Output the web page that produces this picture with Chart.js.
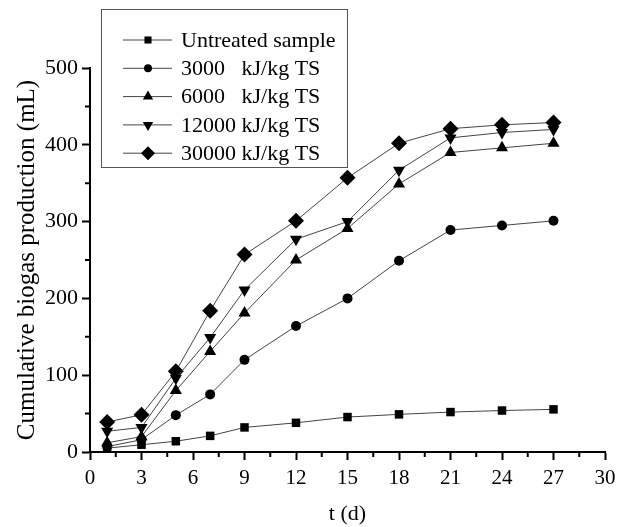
<!DOCTYPE html>
<html>
<head>
<meta charset="utf-8">
<script src="https://cdn.jsdelivr.net/npm/chart.js@4.4.1/dist/chart.umd.min.js"></script>
<style>
  html, body { margin: 0; padding: 0; background: #fff; }
  #wrap { width: 624px; height: 527px; position: relative; }
</style>
</head>
<body>
<div id="wrap"><canvas id="biogasChart" width="624" height="527"></canvas></div>
<script>
// days of digestion
const days = [1, 3, 5, 7, 9, 12, 15, 18, 21, 24, 27];

// cumulative biogas (mL)
const untreated = [5, 9.5, 14, 21, 32, 38, 45.5, 49, 52, 54, 55.5];
const e3000 = [7, 16, 48, 75, 120, 164, 200, 249, 289, 295, 301];
const e6000 = [12, 20, 80, 131, 181, 250, 291, 349, 390, 396, 402];
const e12000 = [27, 32, 96, 149, 211, 277, 300, 367, 409, 416, 420];
const e30000 = [39, 48.5, 105, 184, 257, 301, 357, 402, 421, 426, 429];

const seriesLabels = ["Untreated sample", "3000   kJ/kg TS", "6000   kJ/kg TS", "12000 kJ/kg TS", "30000 kJ/kg TS"];
const seriesValues = [untreated, e3000, e6000, e12000, e30000];
const markerStyles = ["rect", "circle", "triangle", "triangle", "rectRot"];
const markerRotation = [0, 0, 0, 180, 0];
const markerRadius = [6, 5, 7, 7, 8];

const xTicks = [0, 3, 6, 9, 12, 15, 18, 21, 24, 27, 30];
const xMinor = [1.5, 4.5, 7.5, 10.5, 13.5, 16.5, 19.5, 22.5, 25.5, 28.5];
const yTicks = [0, 100, 200, 300, 400, 500];
const yMinor = [50, 150, 250, 350, 450];

const FONT = "'Liberation Serif', 'Times New Roman', serif";

const datasets = seriesLabels.map((label, i) => ({
  label: label,
  data: days.map((d, j) => ({ x: d, y: seriesValues[i][j] })),
  borderColor: "#444",
  borderWidth: 1,
  pointStyle: markerStyles[i],
  pointRotation: markerRotation[i],
  pointRadius: markerRadius[i],
  pointBackgroundColor: "#000",
  pointBorderColor: "#000",
  pointBorderWidth: 0,
  tension: 0,
  fill: false
}));

// minor ticks + boxed legend sitting over the plot
const extrasPlugin = {
  id: "extras",
  afterDraw(chart) {
    const ctx = chart.ctx;
    const area = chart.chartArea;
    const xs = chart.scales.x;
    const ys = chart.scales.y;
    ctx.save();
    ctx.strokeStyle = "#000";
    ctx.lineWidth = 2;
    ctx.beginPath();
    for (const v of xMinor) {
      const px = xs.getPixelForValue(v);
      ctx.moveTo(px, area.bottom);
      ctx.lineTo(px, area.bottom + 5);
    }
    for (const v of yMinor) {
      const py = ys.getPixelForValue(v);
      ctx.moveTo(area.left, py);
      ctx.lineTo(area.left - 5, py);
    }
    ctx.stroke();

    // legend box
    const bx = 101, by = 9, bw = 246, bh = 158;
    ctx.fillStyle = "#fff";
    ctx.fillRect(bx, by, bw, bh);
    ctx.strokeStyle = "#555";
    ctx.lineWidth = 1;
    ctx.strokeRect(bx + 0.5, by + 0.5, bw, bh);

    ctx.font = "22px " + FONT;
    ctx.textBaseline = "middle";
    ctx.textAlign = "left";
    seriesLabels.forEach((label, i) => {
      const y = 40 + i * 28.3;
      ctx.strokeStyle = "#444";
      ctx.lineWidth = 1;
      ctx.beginPath();
      ctx.moveTo(123, y);
      ctx.lineTo(172, y);
      ctx.stroke();
      ctx.fillStyle = "#000";
      ctx.strokeStyle = "#000";
      Chart.helpers.drawPoint(ctx, {
        pointStyle: markerStyles[i],
        rotation: markerRotation[i],
        radius: markerRadius[i] - 1,
        borderWidth: 0
      }, 148, y);
      ctx.fillStyle = "#000";
      ctx.fillText(label, 181, y + 1);
    });
    ctx.restore();
  }
};

new Chart(document.getElementById("biogasChart"), {
  type: "line",
  data: { datasets: datasets },
  plugins: [extrasPlugin],
  options: {
    responsive: false,
    animation: false,
    events: [],
    layout: { padding: { top: 68, right: 19, left: 0, bottom: 0 } },
    plugins: {
      legend: { display: false },
      tooltip: { enabled: false }
    },
    scales: {
      x: {
        type: "linear",
        min: 0,
        max: 30,
        afterBuildTicks: (scale) => { scale.ticks = xTicks.map(v => ({ value: v })); },
        afterFit: (scale) => { scale.height = 75; },
        border: { display: true, color: "#000", width: 2 },
        grid: { drawOnChartArea: false, drawTicks: true, tickLength: 8, tickWidth: 2, tickColor: "#000" },
        ticks: { color: "#000", padding: 6, maxRotation: 0, font: { family: FONT, size: 21 } },
        title: { display: true, text: "t (d)", color: "#000", padding: { top: 0, bottom: 0 }, font: { family: FONT, size: 22 } }
      },
      y: {
        type: "linear",
        min: 0,
        max: 500,
        afterBuildTicks: (scale) => { scale.ticks = yTicks.map(v => ({ value: v })); },
        afterFit: (scale) => { scale.width = 90; },
        border: { display: true, color: "#000", width: 2 },
        grid: { drawOnChartArea: false, drawTicks: true, tickLength: 8, tickWidth: 2, tickColor: "#000" },
        ticks: { color: "#000", padding: 4, font: { family: FONT, size: 22 } },
        title: { display: true, text: "Cumulative biogas production (mL)", color: "#000", padding: { top: 12, bottom: 0 }, font: { family: FONT, size: 25 } }
      }
    }
  }
});
</script>
</body>
</html>
